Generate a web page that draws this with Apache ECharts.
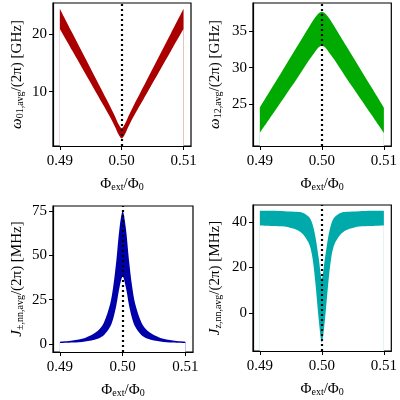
<!DOCTYPE html>
<html><head><meta charset="utf-8">
<script src="https://cdn.jsdelivr.net/npm/echarts@6/dist/echarts.min.js"></script>
<style>html,body{margin:0;padding:0;background:#fff}#c{width:400px;height:400px}</style>
</head><body><div id="c"></div>
<script>
const phi = [0.490,0.492,0.494,0.496,0.497,0.498,0.4985,0.499,0.4995,0.500,0.5005,0.501,0.5015,0.502,0.503,0.504,0.506,0.508,0.510];
const w01Upper = [24.5,20.3,16.1,11.9,9.8,7.7,6.6,5.5,4.3,3.6,4.3,5.5,6.6,7.7,9.8,11.9,16.1,20.3,24.5];
const w01Lower = [21,17.2,13.4,9.6,7.7,5.8,4.8,3.7,2.5,1.8,2.5,3.7,4.8,5.8,7.7,9.6,13.4,17.2,21];
const w12Upper = [24.5,27.3,30.1,32.9,34.3,35.7,36.4,37.0,37.5,37.7,37.5,37.0,36.4,35.7,34.3,32.9,30.1,27.3,24.5];
const w12Lower = [21,23.5,26,28.5,29.8,31.1,31.7,32.3,32.8,33.0,32.8,32.3,31.7,31.1,29.8,28.5,26,23.5,21];
const jpmUpper = [1.3,2.0,3.4,7.3,12,22.5,32.5,47.4,65.5,75,65.5,47.4,32.5,22.5,12,7.3,3.4,2.0,1.3];
const jpmLower = [0.5,0.8,1.4,3,5,9.7,14.4,22,32,38,32,22,14.4,9.7,5,3,1.4,0.8,0.5];
const jzUpper = [45,45,44.8,44.5,44,42,39,33,24,15,24,33,39,42,44,44.5,44.8,45,45];
const jzLower = [38.5,38.3,38,36.5,34.5,30,24,12,-3,-13,-3,12,24,30,34.5,36.5,38,38.3,38.5];
const xTicks = [0.49,0.50,0.51];
const yTicks = [[10,20],[25,30,35],[0,25,50,75],[0,20,40]];
const yRanges = [[0.5,25.5],[19.2,38.9],[-4.5,77.8],[-16.8,47.5]];
const fluxMark = 0.5033;
const colors = ['#aa0000','#00aa00','#0000aa','#00aaaa'];
const yNames = [
 ['ω','01,avg','/(2π) [GHz]'],
 ['ω','12,avg','/(2π) [GHz]'],
 ['J','±,nn,avg','/(2π) [MHz]'],
 ['J','z,nn,avg','/(2π) [MHz]']
];
const uppers=[w01Upper,w12Upper,jpmUpper,jzUpper];
const lowers=[w01Lower,w12Lower,jpmLower,jzLower];
const F='Liberation Serif';
const grids=[
 {left:53,top:3,width:138,height:143},
 {left:253,top:3,width:140,height:143},
 {left:53,top:206,width:140,height:146},
 {left:253,top:205,width:140,height:146}
].map(g=>Object.assign(g,{show:true,borderColor:'#000',borderWidth:1.2,backgroundColor:'transparent'}));
const rich={n:{fontFamily:F,fontSize:15,color:'#000'},s:{fontFamily:F,fontSize:10,color:'#000',verticalAlign:'bottom',padding:[6,0,0,0]},i:{fontFamily:F,fontSize:15,fontStyle:'italic',color:'#000'}};
const xAxis=[],yAxis=[],series=[];
const axLine={show:true,onZero:false,lineStyle:{color:'#000',width:1.2}};
for(let k=0;k<4;k++){
 xAxis.push({type:'value',gridIndex:k,min:0.4889,max:0.5112,z:10,
  name:'{n|Φ}{s|ext}{n|/Φ}{s|0}',nameLocation:'middle',nameGap:30,nameTextStyle:{rich},
  axisLine:axLine,splitLine:{show:false},
  axisTick:{show:true,customValues:xTicks,length:4,lineStyle:{color:'#000'}},
  axisLabel:{customValues:xTicks,formatter:v=>v.toFixed(2),fontFamily:F,fontSize:15,color:'#000',margin:8}});
 yAxis.push({type:'value',gridIndex:k,min:yRanges[k][0],max:yRanges[k][1],z:10,
  name:'{i|'+yNames[k][0]+'}{s|'+yNames[k][1]+'}{n|'+yNames[k][2]+'}',nameLocation:'middle',nameGap:k%2? 30:28,nameTextStyle:{rich},
  axisLine:axLine,splitLine:{show:false},
  axisTick:{show:true,customValues:yTicks[k],length:4,lineStyle:{color:'#000'}},
  axisLabel:{customValues:yTicks[k],fontFamily:F,fontSize:15,color:'#000',margin:6}});
 const lo=lowers[k], up=uppers[k];
 series.push({type:'line',xAxisIndex:k,yAxisIndex:k,symbol:'none',smooth:0.3,z:2,
  lineStyle:{opacity:0},areaStyle:{color:colors[k],opacity:1,origin:'start'},data:phi.map((x,i)=>[x,up[i]]),silent:true});
 series.push({type:'line',xAxisIndex:k,yAxisIndex:k,symbol:'none',smooth:0.3,z:3,
  lineStyle:{opacity:0},areaStyle:{color:'#fff',opacity:1,origin:'start'},data:phi.map((x,i)=>[x,lo[i]]),silent:true,
  markLine:{symbol:'none',silent:true,z:5,label:{show:false},lineStyle:{color:'#000',type:[2,3],width:2.2},data:[{xAxis:fluxMark}]}});
}
const ch=echarts.init(document.getElementById('c'),null,{renderer:'canvas'});
ch.setOption({animation:false,grid:grids,xAxis,yAxis,series});
</script></body></html>
